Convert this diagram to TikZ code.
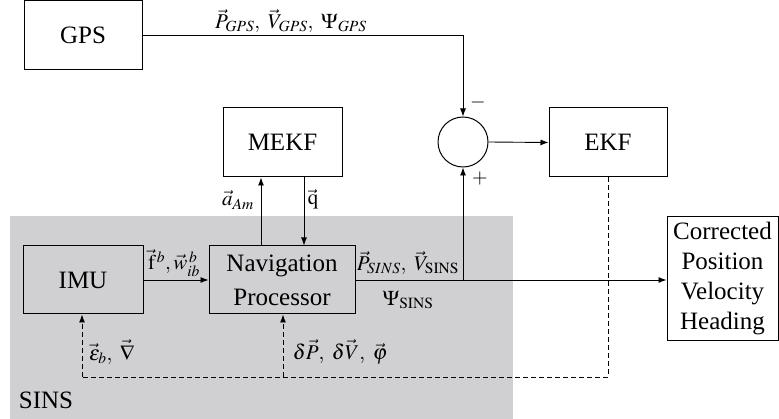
\documentclass[tikz,border=0pt]{standalone}
\usepackage{mathptmx}
\usepackage{fontspec}
\setmainfont{Liberation Serif}
\usetikzlibrary{arrows.meta}
\definecolor{sinsgray}{RGB}{208,207,209}
\begin{document}
\begin{tikzpicture}[x=1pt,y=-1pt,
  box/.style={draw, line width=1pt, fill=white, inner sep=0pt, align=center, font=\fontsize{25}{30}\selectfont},
  sumnode/.style={draw, line width=1pt, circle, fill=white, minimum size=50pt, inner sep=0pt},
  conn/.style={line width=0.9pt, -{Latex[length=8pt,width=6pt]}},
  dashline/.style={line width=0.9pt, dash pattern=on 5pt off 3pt},
  lbl/.style={font=\fontsize{21}{23}\selectfont, inner sep=0pt},
  sign/.style={font=\fontsize{20}{22}\selectfont, inner sep=0pt}]
\useasboundingbox (0,0) rectangle (779,419);
\fill[sinsgray] (10,216) rectangle (513,419);
\node[box, minimum width=118pt, minimum height=69pt] (gps) at (83,35.5) {GPS};
\node[box, minimum width=119pt, minimum height=69pt] (mekf) at (282.5,142.5) {MEKF};
\node[box, minimum width=118pt, minimum height=69pt] (ekf) at (608,142.5) {EKF};
\node[box, minimum width=120pt, minimum height=68pt, fill=sinsgray] (imu) at (83,280) {IMU};
\node[box, minimum width=146pt, minimum height=68pt, fill=sinsgray, font=\fontsize{25}{34}\selectfont] (nav) at (282,280) {Navigation\\Processor};
\node[box, minimum width=111pt, minimum height=124pt] (corr) at (722.5,279) {Corrected\\Position\\Velocity\\Heading};
\node[sumnode] (sum) at (463,142) {};
\coordinate (br) at (463,280);
\coordinate (dk) at (608,377);
\coordinate (dn) at (283,377);
\coordinate (di) at (82,377);
% connectors
\draw[conn] (gps.east) -- (gps.east -| sum) -- (sum.north);
\draw[conn] (sum.east) -- (ekf.west);
\draw[conn] (nav.east) -- (corr.west |- nav.east);
\draw[conn] (br) -- (sum.south);
\draw[conn] (imu.east) -- (nav.west);
\draw[conn] (nav.north -| 261,0) -- (mekf.south -| 261,0);
\draw[conn] (mekf.south -| 304,0) -- (nav.north -| 304,0);
\draw[dashline] (ekf.south) -- (dk) -- (di);
\draw[dashline, -{Latex[length=8pt,width=6pt]}] (di) -- (imu.south -| di);
\draw[dashline, -{Latex[length=8pt,width=6pt]}] (dn) -- (nav.south -| dn);
% labels
\node[lbl] at (291,21) {$\vec{P}_{GPS},\ \vec{V}_{GPS},\ \Psi_{GPS}$};
\node[sign] at (478,103) {$-$};
\node[sign] at (480,179) {$+$};
\node[lbl] at (238,200) {$\vec{a}_{Am}$};
\node[lbl] at (313,199) {$\vec{\mathrm{q}}$};
\node[lbl] at (174,263) {$\vec{\mathrm{f}}^{\,b},\vec{w}_{ib}^{\,b}$};
\node[lbl] at (408,263) {$\vec{P}_{SINS},\ \vec{V}_{\mathrm{SINS}}$};
\node[lbl] at (408,300) {$\Psi_{\mathrm{SINS}}$};
\node[lbl] at (112,352) {$\vec{\varepsilon}_{b},\ \vec{\nabla}$};
\node[lbl] at (340,352) {$\delta\vec{P},\ \delta\vec{V},\ \vec{\varphi}$};
\node[font=\fontsize{25}{27}\selectfont, inner sep=0pt] at (46,400) {SINS};
\end{tikzpicture}
\end{document}
